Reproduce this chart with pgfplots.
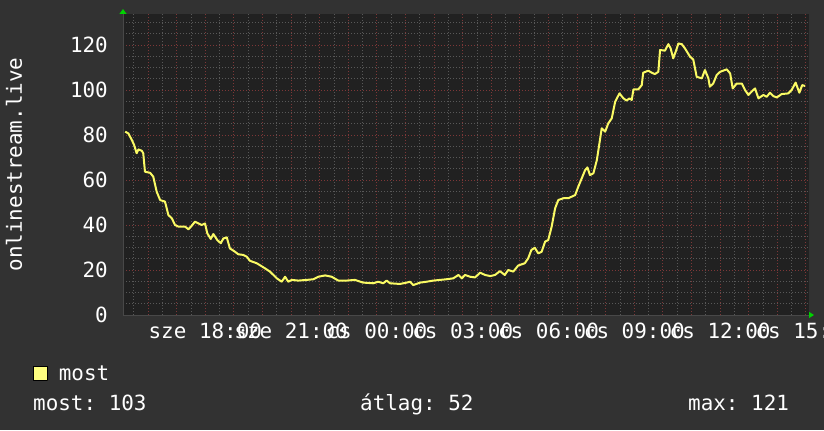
\documentclass[border=0pt]{standalone}
\usepackage{fontspec}
\setmainfont{DejaVu Sans Mono}
\usepackage{pgfplots}
\pgfplotsset{compat=1.18}
\usetikzlibrary{arrows.meta}

\definecolor{bgc}{RGB}{50,50,50}
\definecolor{canvas}{RGB}{33,33,33}
\definecolor{mingrid}{RGB}{88,88,88}
\definecolor{majgrid}{RGB}{125,55,55}
\definecolor{lineyel}{RGB}{250,250,100}
\definecolor{legfill}{RGB}{255,255,128}
\definecolor{arrowgreen}{RGB}{0,210,0}
\definecolor{axisline}{RGB}{72,72,72}

\newcommand{\rrdfont}{\fontsize{21}{25}\selectfont\frenchspacing}

\begin{document}
\begin{tikzpicture}[x=1bp,y=1bp]
\useasboundingbox (0,0) rectangle (824,430);
\fill[bgc] (0,0) rectangle (824,430);
\clip (0,0) rectangle (824,430);
\begin{axis}[
    at={(123bp,115bp)}, anchor=south west,
    scale only axis, width=686bp, height=301bp,
    xmin=-2.878, xmax=21.108,
    ymin=0, ymax=133.8,
    axis background/.style={fill=canvas},
    axis lines=left,
    axis line style={draw=axisline, line width=1bp},
    every outer x axis line/.append style={-{Triangle[color=arrowgreen,length=5bp,width=6bp]}, shorten >=-5bp},
    every outer y axis line/.append style={-{Triangle[color=arrowgreen,length=5bp,width=7bp]}, shorten >=-5bp},
    major tick length=0pt, minor tick length=0pt,
    xtick={-2,...,21},
    xticklabels={,,sze 18:00,,,sze 21:00,,,cs 00:00,,,cs 03:00,,,cs 06:00,,,cs 09:00,,,cs 12:00,,,cs 15:00},
    minor xtick={-2.5,-1.5,...,20.5},
    ytick={0,20,...,120},
    minor ytick={5,10,15,25,30,35,45,50,55,65,70,75,85,90,95,105,110,115,125,130},
    grid=both,
    minor grid style={draw=mingrid, line width=1bp, dash pattern=on 1bp off 2bp},
    major grid style={draw=majgrid, line width=1bp, dash pattern=on 1bp off 2bp},
    /pgf/number format/assume math mode=true,
    tick label style={font=\rrdfont, text=white},
    yticklabel style={anchor=east, inner sep=0pt, xshift=-15bp},
    xticklabel style={anchor=north, inner sep=0pt, yshift=-8bp},
    ylabel={onlinestream.live},
    ylabel style={at={(axis description cs:-0.159,0.5)}, anchor=center, font=\rrdfont, text=white},
    legend style={at={(axis description cs:-0.131,-0.196)}, anchor=west,
        draw=none, fill=none, text=white, font=\rrdfont, inner sep=0pt,
        nodes={inner sep=0pt},
        /tikz/every odd column/.append style={column sep=10.5bp}},
    legend image code/.code={\draw[draw=black, fill=legfill, line width=1bp] (0bp,-7bp) rectangle (14bp,7bp);},
]
\addplot[color=lineyel, line width=2bp, line join=round] coordinates {
(-2.80,81.5) (-2.69,80.7) (-2.57,77.8) (-2.49,75.6) (-2.40,71.9) (-2.34,73.6) (-2.22,73.0) (-2.17,71.9)
(-2.11,63.7) (-1.93,63.2) (-1.82,61.5) (-1.70,54.8) (-1.58,51.1) (-1.41,50.4) (-1.29,44.4) (-1.17,43.0)
(-1.06,40.0) (-0.94,39.3) (-0.71,39.3) (-0.59,38.1) (-0.48,39.6) (-0.36,41.5) (-0.24,40.7) (-0.13,40.0)
(-0.01,40.7) (0.07,36.3) (0.19,33.8) (0.28,36.0) (0.42,33.3) (0.54,31.9) (0.63,34.0) (0.75,34.5)
(0.86,29.6) (1.04,28.1) (1.15,27.0) (1.33,26.7) (1.45,25.9)
(1.56,24.1) (1.80,23.0) (2.03,21.2) (2.26,19.3) (2.38,17.8) (2.50,16.3) (2.67,14.8) (2.79,17.0)
(2.90,14.8) (3.02,15.6) (3.25,15.3) (3.55,15.6) (3.78,15.9) (3.95,17.0) (4.19,17.6) (4.42,17.0)
(4.65,15.3) (4.94,15.3) (5.23,15.6) (5.52,14.4) (5.87,14.1) (6.05,14.8) (6.22,14.1) (6.34,15.3) (6.46,14.1)
(6.81,13.8) (7.04,14.4) (7.16,14.8) (7.27,13.3) (7.51,14.4) (7.74,14.8) (7.97,15.3) (8.21,15.6)
(8.44,15.9) (8.67,16.3) (8.85,17.8) (8.97,16.3) (9.08,17.8) (9.26,17.0) (9.43,16.7) (9.61,18.8)
(9.78,17.8) (9.96,17.3) (10.13,17.8) (10.30,19.5) (10.47,17.8) (10.59,20.0) (10.77,19.3) (10.94,22.0)
(11.17,23.0) (11.29,25.2) (11.40,28.9) (11.52,29.9) (11.64,27.4) (11.76,28.1) (11.88,32.6) (11.99,33.3)
(12.11,39.3) (12.23,47.4) (12.34,51.1) (12.52,51.9) (12.69,51.9) (12.81,52.6) (12.93,53.3) (13.04,57.0)
(13.16,60.7) (13.28,64.4) (13.36,65.6) (13.45,62.2) (13.57,63.0) (13.69,68.9) (13.78,76.3) (13.86,83.0)
(13.98,81.5) (14.09,85.2)
(14.21,87.4) (14.33,94.8) (14.48,98.5) (14.62,96.3) (14.73,95.3) (14.83,96.3) (14.91,95.6) (14.97,100.3)
(15.14,100.3) (15.26,102.2) (15.31,107.7) (15.49,108.6) (15.61,107.7) (15.72,107.1) (15.84,108.1) (15.90,117.8)
(16.07,117.5) (16.19,120.4) (16.27,118.5) (16.36,114.1) (16.46,117.5) (16.54,120.7) (16.66,120.4) (16.77,118.5)
(16.95,114.8) (17.06,113.6) (17.18,105.9) (17.36,105.2) (17.47,108.9) (17.59,105.2)
(17.64,101.5) (17.76,102.9) (17.88,106.7) (18.00,108.1) (18.23,109.2) (18.35,107.4) (18.44,100.7) (18.58,102.9)
(18.76,102.9) (18.87,100.0) (18.99,97.8) (19.10,99.3) (19.22,100.7) (19.34,96.3) (19.51,97.8) (19.63,97.0)
(19.74,98.8) (19.86,97.3) (19.98,96.7) (20.15,98.2) (20.38,98.5) (20.50,100.0) (20.64,103.3) (20.77,98.8)
(20.87,102.2) (20.97,101.8)
};
\addlegendentry{most}
\end{axis}
\node[anchor=base west, inner sep=0pt, text=white, font=\rrdfont] at (33,20) {most: 103};
\node[anchor=base west, inner sep=0pt, text=white, font=\rrdfont] at (360,20) {átlag: 52};
\node[anchor=base west, inner sep=0pt, text=white, font=\rrdfont] at (688,20) {max: 121};
\end{tikzpicture}
\end{document}
